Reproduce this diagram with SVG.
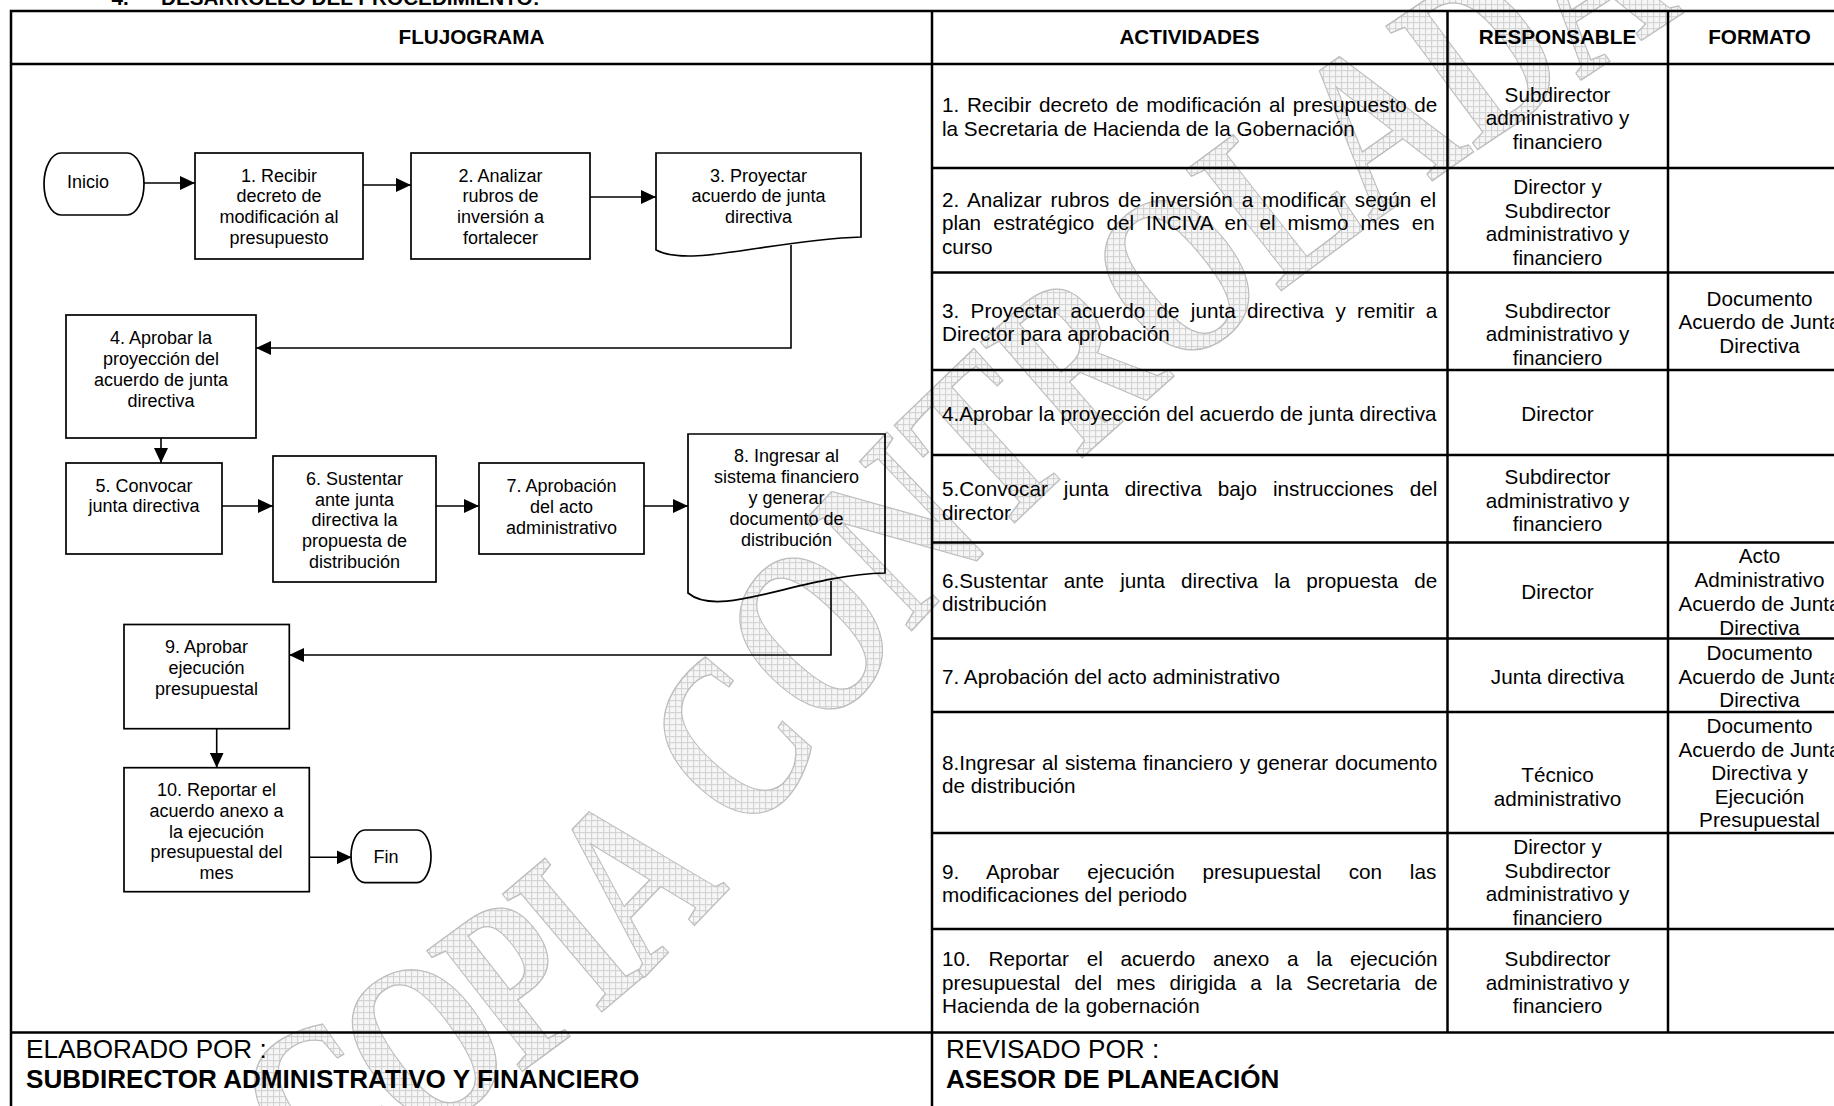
<svg xmlns="http://www.w3.org/2000/svg" width="1834" height="1106" viewBox="0 0 1834 1106">
<defs>
<style>
.t{font-family:"Liberation Sans",Arial,sans-serif;font-size:20.7px;fill:#000}
.b{font-weight:bold}
.c{text-anchor:middle}
.f{font-family:"Liberation Sans",Arial,sans-serif;font-size:18px;fill:#000;text-anchor:middle}
.ft{font-family:"Liberation Sans",Arial,sans-serif;font-size:26.1px;fill:#000}
.g{stroke:#000;stroke-width:2.5;fill:none}
.box{fill:none;stroke:#000;stroke-width:1.7}
.cn{fill:none;stroke:#000;stroke-width:1.6;marker-end:url(#ah)}
.wm{font-family:"Liberation Serif","Times New Roman",serif;font-weight:bold;font-size:235px;fill:url(#hatch);stroke:#bdbdbd;stroke-width:1.4;vector-effect:non-scaling-stroke}
</style>
<pattern id="hatch" width="6" height="6" patternUnits="userSpaceOnUse" patternTransform="scale(1.3514,1) rotate(40)"><rect width="6" height="6" fill="#f6f6f6"/><path d="M0,0.5H6M0.5,0V6" stroke="#d2d2d2" stroke-width="1"/></pattern>
<marker id="ah" markerWidth="15" markerHeight="14" refX="15" refY="7" orient="auto" markerUnits="userSpaceOnUse"><path d="M0,0L15,7L0,14Z" fill="#000"/></marker>
<path id="wmp" d="M-27,80C270,120 541,150 757,100S1149,20 1486,10S2162,30 2500,60"/>
</defs>
<rect width="1834" height="1106" fill="#fff"/>
<g id="watermark" transform="translate(255,1138) rotate(-40)"><text class="wm" transform="scale(0.74,1)"><textPath href="#wmp" startOffset="30"><tspan letter-spacing="-12">COPIA </tspan><tspan dx="40">CONTROLADA</tspan></textPath></text></g>

<g id="title"><text class="t b" x="111.5" y="5">4.</text><text class="t b" x="161" y="5">DESARROLLO DEL PROCEDIMIENTO:</text></g>

<g id="grid">
<path class="g" d="M11,1110V11H1840M11,64H1840M932,11V1110M1447.5,11V1032.5M1668,11V1032.5M11,1032.5H1840"/>
<path class="g" d="M932,168H1840M932,272.5H1840M932,370H1840M932,455H1840M932,542.5H1840M932,638.5H1840M932,712H1840M932,833H1840M932,929H1840"/>
</g>

<g id="header">
<text class="t b c" x="471.5" y="43.5">FLUJOGRAMA</text>
<text class="t b c" x="1189.5" y="43.5">ACTIVIDADES</text>
<text class="t b c" x="1557.5" y="43.5">RESPONSABLE</text>
<text class="t b c" x="1759.5" y="43.5">FORMATO</text>
</g>

<g id="row1">
<text class="t" x="942" y="112" word-spacing="1.93">1. Recibir decreto de modificación al presupuesto de</text>
<text class="t" x="942" y="135.5">la Secretaria de Hacienda de la Gobernación</text>
<text class="t c" x="1557.5" y="101.5">Subdirector</text>
<text class="t c" x="1557.5" y="125">administrativo y</text>
<text class="t c" x="1557.5" y="148.5">financiero</text>
</g>
<g id="row2">
<text class="t" x="942" y="206.5" word-spacing="3.13">2. Analizar rubros de inversión a modificar según el</text>
<text class="t" x="942" y="230" word-spacing="6.3">plan estratégico del INCIVA en el mismo mes en</text>
<text class="t" x="942" y="253.5">curso</text>
<text class="t c" x="1557.5" y="194">Director y</text>
<text class="t c" x="1557.5" y="217.5">Subdirector</text>
<text class="t c" x="1557.5" y="241">administrativo y</text>
<text class="t c" x="1557.5" y="264.5">financiero</text>
</g>
<g id="row3">
<text class="t" x="942" y="317.5" word-spacing="5.58">3. Proyectar acuerdo de junta directiva y remitir a</text>
<text class="t" x="942" y="341">Director para aprobación</text>
<text class="t c" x="1557.5" y="317.5">Subdirector</text>
<text class="t c" x="1557.5" y="341">administrativo y</text>
<text class="t c" x="1557.5" y="364.5">financiero</text>
<text class="t c" x="1759.5" y="305.5">Documento</text>
<text class="t c" x="1759.5" y="329">Acuerdo de Junta</text>
<text class="t c" x="1759.5" y="352.5">Directiva</text>
</g>
<g id="row4">
<text class="t" x="942" y="420.5">4.Aprobar la proyección del acuerdo de junta directiva</text>
<text class="t c" x="1557.5" y="420.5">Director</text>
</g>
<g id="row5">
<text class="t" x="942" y="496" word-spacing="10.3">5.Convocar junta directiva bajo instrucciones del</text>
<text class="t" x="942" y="519.5">director</text>
<text class="t c" x="1557.5" y="484">Subdirector</text>
<text class="t c" x="1557.5" y="507.5">administrativo y</text>
<text class="t c" x="1557.5" y="531">financiero</text>
</g>
<g id="row6">
<text class="t" x="942" y="587.5" word-spacing="10.3">6.Sustentar ante junta directiva la propuesta de</text>
<text class="t" x="942" y="611">distribución</text>
<text class="t c" x="1557.5" y="599">Director</text>
<text class="t c" x="1759.5" y="563">Acto</text>
<text class="t c" x="1759.5" y="587">Administrativo</text>
<text class="t c" x="1759.5" y="611">Acuerdo de Junta</text>
<text class="t c" x="1759.5" y="635">Directiva</text>
</g>
<g id="row7">
<text class="t" x="942" y="683.5">7. Aprobación del acto administrativo</text>
<text class="t c" x="1557.5" y="683.5">Junta directiva</text>
<text class="t c" x="1759.5" y="660">Documento</text>
<text class="t c" x="1759.5" y="683.5">Acuerdo de Junta</text>
<text class="t c" x="1759.5" y="707">Directiva</text>
</g>
<g id="row8">
<text class="t" x="942" y="769.5" word-spacing="1.11">8.Ingresar al sistema financiero y generar documento</text>
<text class="t" x="942" y="793">de distribución</text>
<text class="t c" x="1557.5" y="782">Técnico</text>
<text class="t c" x="1557.5" y="805.5">administrativo</text>
<text class="t c" x="1759.5" y="733">Documento</text>
<text class="t c" x="1759.5" y="756.5">Acuerdo de Junta</text>
<text class="t c" x="1759.5" y="780">Directiva y</text>
<text class="t c" x="1759.5" y="803.5">Ejecución</text>
<text class="t c" x="1759.5" y="827">Presupuestal</text>
</g>
<g id="row9">
<text class="t" x="942" y="878.5" word-spacing="22.03">9. Aprobar ejecución presupuestal con las</text>
<text class="t" x="942" y="902">modificaciones del periodo</text>
<text class="t c" x="1557.5" y="854">Director y</text>
<text class="t c" x="1557.5" y="877.5">Subdirector</text>
<text class="t c" x="1557.5" y="901">administrativo y</text>
<text class="t c" x="1557.5" y="924.5">financiero</text>
</g>
<g id="row10">
<text class="t" x="942" y="966" word-spacing="11.96">10. Reportar el acuerdo anexo a la ejecución</text>
<text class="t" x="942" y="989.5" word-spacing="8.35">presupuestal del mes dirigida a la Secretaria de</text>
<text class="t" x="942" y="1013">Hacienda de la gobernación</text>
<text class="t c" x="1557.5" y="966">Subdirector</text>
<text class="t c" x="1557.5" y="989.5">administrativo y</text>
<text class="t c" x="1557.5" y="1013">financiero</text>
</g>

<g id="footer">
<text class="ft" x="26" y="1058">ELABORADO POR :</text>
<text class="ft b" x="26" y="1087.5">SUBDIRECTOR ADMINISTRATIVO Y FINANCIERO</text>
<text class="ft" x="946" y="1058">REVISADO POR :</text>
<text class="ft b" x="946" y="1087.5">ASESOR DE PLANEACIÓN</text>
</g>

<g id="connectors">
<path class="cn" d="M144,183H195"/>
<path class="cn" d="M363,185H411"/>
<path class="cn" d="M590,197H656"/>
<path class="cn" d="M791,245V348H256"/>
<path class="cn" d="M161,438V463"/>
<path class="cn" d="M222,506H273"/>
<path class="cn" d="M436,506H479"/>
<path class="cn" d="M644,506H688"/>
<path class="cn" d="M831,581V655H289"/>
<path class="cn" d="M216.7,728.7V767.7"/>
<path class="cn" d="M309.3,857.3H351.7"/>
</g>

<g id="n-inicio"><path class="box" d="M61,153H127A17,31 0 0 1 127,215H61A17,31 0 0 1 61,153Z"/><text class="f" x="88" y="188.2">Inicio</text></g>
<g id="n1"><rect class="box" x="195" y="153" width="168" height="106"/>
<text class="f" x="279" y="181.5">1. Recibir</text><text class="f" x="279" y="202.4">decreto de</text><text class="f" x="279" y="223.3">modificación al</text><text class="f" x="279" y="244.2">presupuesto</text></g>
<g id="n2"><rect class="box" x="411" y="153" width="179" height="106"/>
<text class="f" x="500.5" y="181.5">2. Analizar</text><text class="f" x="500.5" y="202.4">rubros de</text><text class="f" x="500.5" y="223.3">inversión a</text><text class="f" x="500.5" y="244.2">fortalecer</text></g>
<g id="n3"><path class="box" d="M656,153H861V237C770,240 690,268 656,250Z"/>
<text class="f" x="758.5" y="181.5">3. Proyectar</text><text class="f" x="758.5" y="202.4">acuerdo de junta</text><text class="f" x="758.5" y="223.3">directiva</text></g>
<g id="n4"><rect class="box" x="66" y="315" width="190" height="123"/>
<text class="f" x="161" y="344.2">4. Aprobar la</text><text class="f" x="161" y="365">proyección del</text><text class="f" x="161" y="385.8">acuerdo de junta</text><text class="f" x="161" y="406.6">directiva</text></g>
<g id="n5"><rect class="box" x="66" y="463" width="156" height="91"/>
<text class="f" x="144" y="491.5">5. Convocar</text><text class="f" x="144" y="512.4">junta directiva</text></g>
<g id="n6"><rect class="box" x="273" y="456" width="163" height="126"/>
<text class="f" x="354.5" y="484.8">6. Sustentar</text><text class="f" x="354.5" y="505.6">ante junta</text><text class="f" x="354.5" y="526.4">directiva la</text><text class="f" x="354.5" y="547.2">propuesta de</text><text class="f" x="354.5" y="568">distribución</text></g>
<g id="n7"><rect class="box" x="479" y="463" width="165" height="91"/>
<text class="f" x="561.5" y="491.5">7. Aprobación</text><text class="f" x="561.5" y="512.5">del acto</text><text class="f" x="561.5" y="533.5">administrativo</text></g>
<g id="n8"><path class="box" d="M688,434H885V573C800,575 720,620 688,593Z"/>
<text class="f" x="786.5" y="461.5">8. Ingresar al</text><text class="f" x="786.5" y="482.5">sistema financiero</text><text class="f" x="786.5" y="503.5">y generar</text><text class="f" x="786.5" y="524.5">documento de</text><text class="f" x="786.5" y="545.5">distribución</text></g>
<g id="n9"><rect class="box" x="124" y="624.5" width="165.3" height="104.2"/>
<text class="f" x="206.5" y="652.8">9. Aprobar</text><text class="f" x="206.5" y="673.7">ejecución</text><text class="f" x="206.5" y="694.6">presupuestal</text></g>
<g id="n10"><rect class="box" x="124" y="767.7" width="185.3" height="124"/>
<text class="f" x="216.5" y="795.7">10. Reportar el</text><text class="f" x="216.5" y="816.6">acuerdo anexo a</text><text class="f" x="216.5" y="837.5">la ejecución</text><text class="f" x="216.5" y="858.4">presupuestal del</text><text class="f" x="216.5" y="879.3">mes</text></g>
<g id="n-fin"><path class="box" d="M365,830H417A14,26.3 0 0 1 417,882.6H365A14,26.3 0 0 1 365,830Z"/><text class="f" x="386" y="863.3">Fin</text></g>
</svg>
